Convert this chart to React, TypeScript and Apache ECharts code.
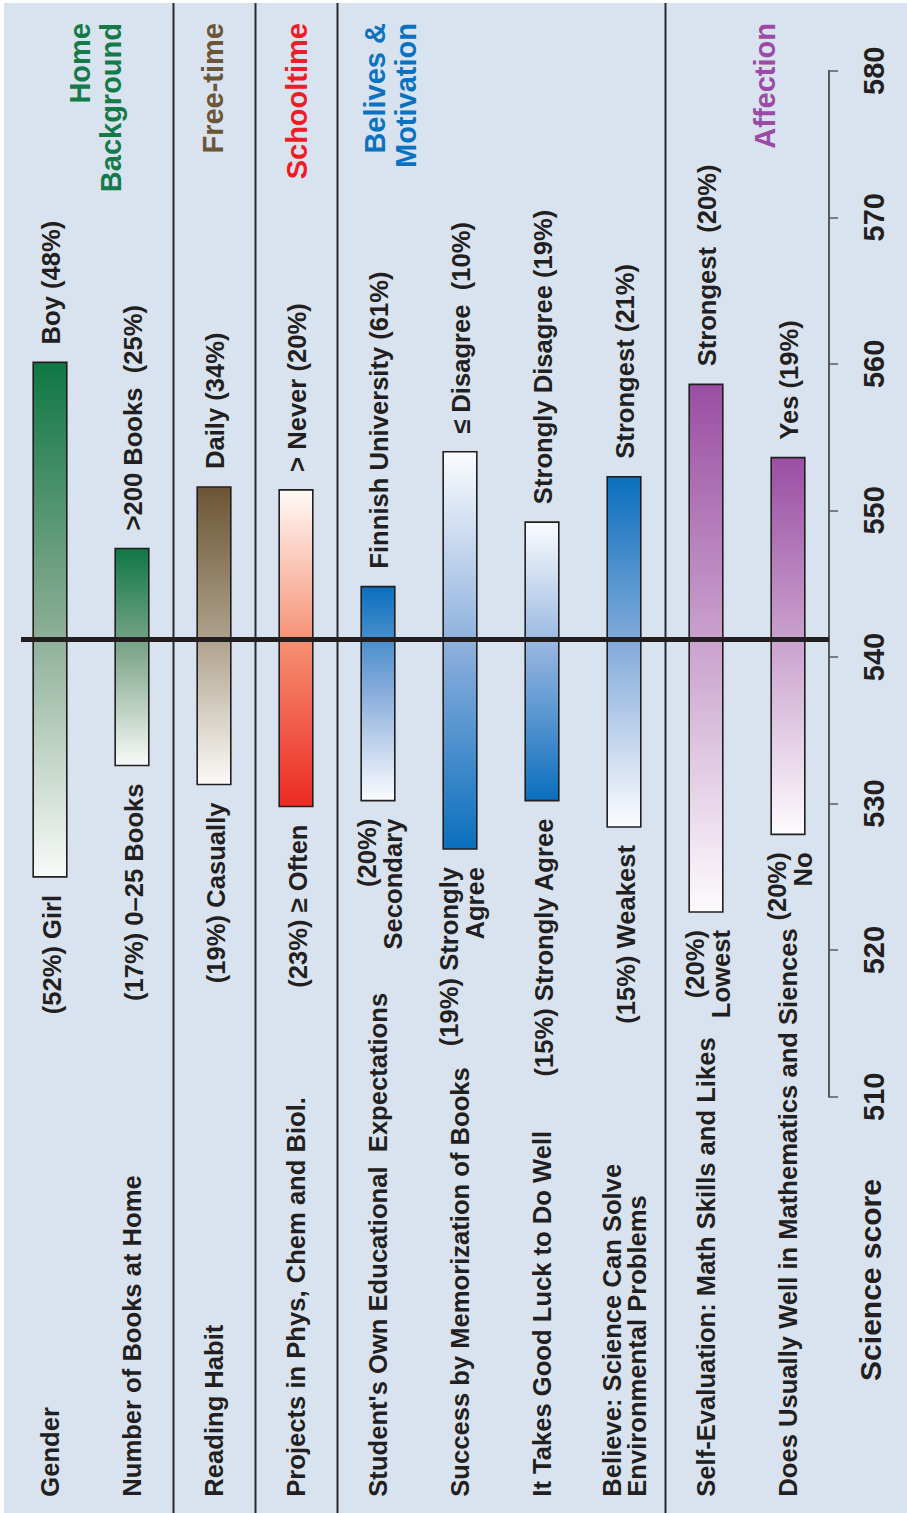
import React, { useEffect, useRef } from "react";
import * as echarts from "echarts";

// ---------------- data ----------------
const categories = [
  "Gender",
  "Number of Books at Home",
  "Reading Habit",
  "Projects in Phys, Chem and Biol.",
  "Student's Own Educational  Expectations",
  "Success by Memorization of Books",
  "It Takes Good Luck to Do Well",
  "Believe: Science Can Solve\nEnvironmental Problems",
  "Self-Evaluation: Math Skills and Likes",
  "Does Usually Well in Mathematics and Siences",
];
const lowScores = [525.0, 532.6, 531.3, 529.8, 530.2, 526.9, 530.2, 528.4, 522.6, 527.9];
const highScores = [560.1, 547.4, 551.6, 551.4, 544.8, 554.0, 549.2, 552.3, 558.6, 553.6];
const highLabels = [
  "Boy (48%)",
  ">200 Books  (25%)",
  "Daily (34%)",
  "> Never (20%)",
  "Finnish University (61%)",
  "\u2264 Disagree  (10%)",
  "Strongly Disagree (19%)",
  "Strongest (21%)",
  "Strongest  (20%)",
  "Yes (19%)",
];
const lowLabels = [
  "(52%) Girl",
  "(17%) 0\u201325 Books",
  "(19%) Casually",
  "(23%) \u2265 Often",
  "(20%)\nSecondary",
  "(19%) Strongly\nAgree",
  "(15%) Strongly Agree",
  "(15%) Weakest",
  "(20%)\nLowest",
  "(20%)\nNo",
];
const referenceScore = 541.2;
const scoreMin = 510;
const scoreMax = 580;
const scoreStep = 10;
const groupTitles = ["Home\nBackground", "Free-time", "Schooltime", "Belives &\nMotivation", "Affection"];
const axisTitle = "Science score";
// indices after which a group separator is drawn
const separatorsAfter = [1, 2, 3, 7];

// ---------------- styles ----------------
const FONT = '"Liberation Sans", Arial, Helvetica, sans-serif';
const INK = "#231f20";
const BG = "#d9e3ef";
const LABEL_SIZE = 25.6;
const groupTitleStyles = [
  { x: 95, color: "#137a48" },
  { x: 213, color: "#6b5637" },
  { x: 297, color: "#ee1c25" },
  { x: 390, color: "#0a72c0" },
  { x: 765, color: "#9b4aa6" },
];
const greenStops = [
  [0, "#0f7744"],
  [0.5, "#86ab92"],
  [1, "#f8faf8"],
];
const brownStops = [
  [0, "#6b5535"],
  [0.5, "#ada08a"],
  [1, "#fbfaf8"],
];
const redStops = [
  [0, "#fffaf7"],
  [0.5, "#f58c6f"],
  [1, "#ec2a24"],
];
const blueDown = [
  [0, "#0a6fbd"],
  [0.5, "#8aaedc"],
  [1, "#fbfcfe"],
];
const blueUp = [
  [0, "#fbfcfe"],
  [0.5, "#8aaedc"],
  [1, "#0a6fbd"],
];
const purpleStops = [
  [0, "#9a4ea3"],
  [0.5, "#cba4cf"],
  [1, "#fdfbfd"],
];
const barStops = [
  greenStops,
  greenStops,
  brownStops,
  redStops,
  blueDown,
  blueUp,
  blueUp,
  blueDown,
  purpleStops,
  purpleStops,
];

const WIDTH = 907;
const HEIGHT = 1513;

export default function App() {
  const ref = useRef<HTMLDivElement>(null);

  useEffect(() => {
    if (!ref.current) return;
    const chart = echarts.init(ref.current, undefined, { renderer: "svg" });

    const seriesData = categories.map((_, i) => [i, lowScores[i], highScores[i]]);

    const renderItem = (params: any, api: any) => {
      const i = api.value(0);
      const lo = api.value(1);
      const hi = api.value(2);
      const pt = api.coord([i, hi]);
      const pb = api.coord([i, lo]);
      const band = api.size([1, 0])[0];
      const w = band * 0.41;
      const grad = new echarts.graphic.LinearGradient(
        0,
        0,
        0,
        1,
        (barStops[i] as any[]).map((s) => ({ offset: s[0], color: s[1] }))
      );
      const textBase = {
        fill: INK,
        font: `bold ${LABEL_SIZE}px ${FONT}`,
        lineHeight: 26,
      };
      return {
        type: "group",
        children: [
          {
            type: "rect",
            shape: { x: pt[0] - w / 2, y: pt[1], width: w, height: pb[1] - pt[1] },
            style: { fill: grad, stroke: INK, lineWidth: 1.6 },
          },
          {
            type: "text",
            x: pt[0] + 1,
            y: pt[1] - 18,
            rotation: Math.PI / 2,
            style: {
              ...textBase,
              text: highLabels[i],
              align: "left",
              textAlign: "left",
              verticalAlign: "middle",
              textVerticalAlign: "middle",
            },
          },
          {
            type: "text",
            x: pb[0] + 2,
            y: pb[1] + 18,
            rotation: Math.PI / 2,
            style: {
              ...textBase,
              text: lowLabels[i],
              align: "right",
              textAlign: "right",
              verticalAlign: "middle",
              textVerticalAlign: "middle",
            },
          },
        ],
      };
    };

    const option: any = {
      animation: false,
      backgroundColor: "#ffffff",
      textStyle: { fontFamily: FONT },
      grid: {
        left: 9,
        right: WIDTH - 829,
        top: 70.7,
        bottom: HEIGHT - 1096.7,
        containLabel: false,
        outerBoundsMode: "none",
      },
      xAxis: {
        type: "category",
        data: categories,
        axisLine: { show: false },
        axisTick: { show: false },
        splitLine: { show: false },
        axisLabel: {
          interval: 0,
          rotate: 90,
          align: "left",
          verticalAlign: "middle",
          margin: 400,
          color: INK,
          fontSize: LABEL_SIZE,
          fontWeight: "bold",
          fontFamily: FONT,
          lineHeight: 25,
          hideOverlap: false,
        },
      },
      yAxis: {
        type: "value",
        position: "right",
        min: scoreMin,
        max: scoreMax,
        interval: scoreStep,
        splitLine: { show: false },
        axisLine: { show: true, lineStyle: { color: "#58595b", width: 2 } },
        axisTick: { show: true, inside: false, length: 9, lineStyle: { color: "#58595b", width: 1.5 } },
        axisLabel: {
          rotate: 90,
          margin: 30,
          color: INK,
          fontSize: 29,
          fontWeight: "bold",
          fontFamily: FONT,
        },
      },
      series: [
        {
          type: "custom",
          renderItem,
          encode: { x: 0, y: [1, 2] },
          data: seriesData,
          clip: false,
          z: 3,
          markLine: {
            silent: true,
            symbol: ["none", "none"],
            label: { show: false },
            lineStyle: { color: INK, width: 5, type: "solid" },
            z: 10,
            data: [
              [
                { coord: [0, referenceScore], x: 21 },
                { coord: [categories.length - 1, referenceScore], x: 829 },
              ],
            ],
          },
        },
      ],
    };

    chart.setOption(option);

    // separators at category boundaries, computed from the category axis
    const px = (i: number) => chart.convertToPixel({ xAxisIndex: 0 }, categories[i]) as number;
    const sepLines = separatorsAfter.map((i) => {
      const x = Math.round((px(i) + px(i + 1)) / 2) + 0.5;
      return {
        type: "line",
        z: -5,
        silent: true,
        shape: { x1: x, y1: 3, x2: x, y2: HEIGHT },
        style: { stroke: "#2b2b2b", lineWidth: 2 },
      };
    });

    const titles = groupTitles.map((t, k) => ({
      type: "text",
      z: 5,
      x: groupTitleStyles[k].x,
      y: 23,
      rotation: Math.PI / 2,
      style: {
        text: t,
        fill: groupTitleStyles[k].color,
        font: `bold 29px ${FONT}`,
        lineHeight: 31,
        textAlign: "right",
        align: "right",
        textVerticalAlign: "middle",
        verticalAlign: "middle",
      },
    }));

    chart.setOption({
      graphic: [
        {
          type: "rect",
          z: -100,
          silent: true,
          shape: { x: 4, y: 3, width: WIDTH - 4, height: HEIGHT - 3 },
          style: { fill: BG },
        },
        ...sepLines,
        ...titles,
        {
          type: "text",
          z: 5,
          x: 870,
          y: 1280,
          rotation: Math.PI / 2,
          style: {
            text: axisTitle,
            fill: INK,
            font: `bold 30px ${FONT}`,
            textAlign: "center",
            align: "center",
            textVerticalAlign: "middle",
            verticalAlign: "middle",
          },
        },
      ],
    });

    return () => {
      chart.dispose();
    };
  }, []);

  return (
    <div
      ref={ref}
      style={{ position: "absolute", left: 0, top: 0, width: WIDTH, height: HEIGHT }}
    />
  );
}
